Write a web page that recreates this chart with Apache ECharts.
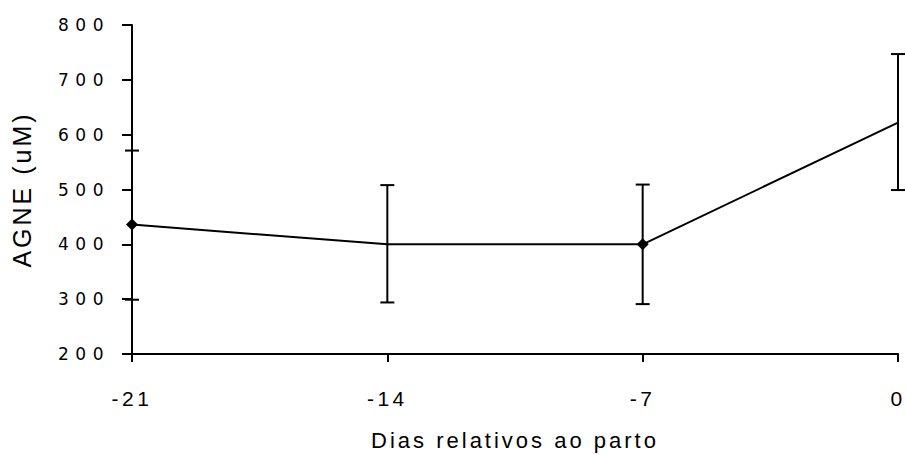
<!DOCTYPE html>
<html>
<head>
<meta charset="utf-8">
<script src="https://cdn.jsdelivr.net/npm/echarts@6/dist/echarts.min.js"></script>
<style>
  html, body { margin: 0; padding: 0; background: #ffffff; }
  #chart { width: 906px; height: 455px; }
  #chart text[style*="17px"] { letter-spacing: 6.5px; }
  #chart text[style*="21px"] { letter-spacing: 3.5px; }
  #chart text[style*="22px"] { letter-spacing: 3px; }
  #chart text[style*="25px"] { letter-spacing: 3px; }
</style>
</head>
<body>
<div id="chart"></div>
<script>
// Data
const days = ['-21', '-14', '-7', '0'];
const meanAGNE = [436, 400, 400, 622];
const lowerAGNE = [299, 294, 291, 499];
const upperAGNE = [571, 508, 509, 747];
const markerShown = [true, false, true, false];
const yTicks = [200, 300, 400, 500, 600, 700, 800];

const chart = echarts.init(document.getElementById('chart'), null, { renderer: 'svg' });

const lineData = meanAGNE.map((v, i) => ({
  value: v,
  symbol: markerShown[i] ? 'diamond' : 'none'
}));
const errData = days.map((d, i) => [i, lowerAGNE[i], upperAGNE[i]]);

const option = {
  animation: false,
  backgroundColor: '#ffffff',
  grid: { left: 132, right: 8, top: 25, bottom: 101, containLabel: false, outerBoundsMode: 'none' },
  xAxis: {
    type: 'category',
    data: days,
    boundaryGap: false,
    name: 'Dias relativos ao parto',
    nameLocation: 'middle',
    nameGap: 75,
    nameTextStyle: { fontFamily: 'Liberation Sans', fontSize: 22, color: '#000' },
    axisLine: { lineStyle: { color: '#000', width: 2 } },
    axisTick: { show: true, length: 8, lineStyle: { color: '#000', width: 2 }, alignWithLabel: true },
    axisLabel: { fontFamily: 'Liberation Sans', fontSize: 21, color: '#000', margin: 34 },
    splitLine: { show: false }
  },
  yAxis: {
    type: 'value',
    min: yTicks[0],
    max: yTicks[yTicks.length - 1],
    interval: 100,
    name: 'AGNE (uM)',
    nameLocation: 'middle',
    nameGap: 98,
    nameRotate: 90,
    nameTextStyle: { fontFamily: 'Liberation Sans', fontSize: 25, color: '#000' },
    axisLine: { show: true, lineStyle: { color: '#000', width: 2 } },
    axisTick: { show: true, length: 10, lineStyle: { color: '#000', width: 2 } },
    axisLabel: { fontFamily: 'DejaVu Sans', fontSize: 17, color: '#000', margin: 22 },
    splitLine: { show: false }
  },
  series: [
    {
      type: 'line',
      data: lineData,
      symbolSize: 12,
      showAllSymbol: true,
      lineStyle: { color: '#000', width: 2 },
      itemStyle: { color: '#000' },
      z: 3
    },
    {
      type: 'custom',
      data: errData,
      z: 4,
      renderItem: function (params, api) {
        const x = api.value(0);
        const lo = api.coord([x, api.value(1)]);
        const hi = api.coord([x, api.value(2)]);
        const half = 7;
        const style = { stroke: '#000', lineWidth: 2 };
        return {
          type: 'group',
          children: [
            { type: 'line', shape: { x1: lo[0], y1: lo[1], x2: hi[0], y2: hi[1] }, style: style },
            { type: 'line', shape: { x1: lo[0] - half, y1: lo[1], x2: lo[0] + half, y2: lo[1] }, style: style },
            { type: 'line', shape: { x1: hi[0] - half, y1: hi[1], x2: hi[0] + half, y2: hi[1] }, style: style }
          ]
        };
      }
    }
  ]
};

chart.setOption(option);
</script>
</body>
</html>
